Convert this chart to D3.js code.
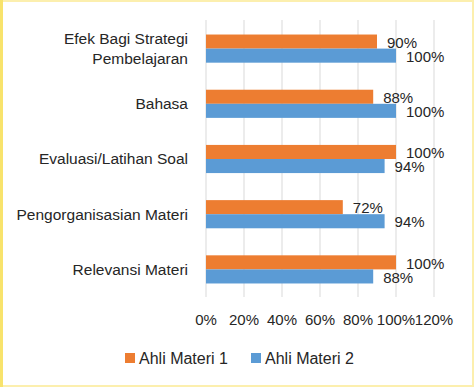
<!DOCTYPE html>
<html>
<head>
<meta charset="utf-8">
<script src="https://d3js.org/d3.v7.min.js"></script>
<style>
body { margin: 0; background: #fff; }
svg { display: block; font-family: "Liberation Sans", Arial, sans-serif; }
</style>
</head>
<body>
<script>
var categories = ["Efek Bagi Strategi\nPembelajaran", "Bahasa", "Evaluasi/Latihan Soal", "Pengorganisasian Materi", "Relevansi Materi"];
var seriesNames = ["Ahli Materi 1", "Ahli Materi 2"];
var ahli1 = [0.90, 0.88, 1.00, 0.72, 1.00];
var ahli2 = [1.00, 1.00, 0.94, 0.94, 0.88];
var xTicks = [0, 0.2, 0.4, 0.6, 0.8, 1.0, 1.2];
var colors = ["#ED7D31", "#5B9BD5"];

var W = 474, H = 387;
var plotL = 206, plotR = 434, plotT = 21, plotB = 297;

var svg = d3.select("body").append("svg").attr("width", W).attr("height", H);

// border
svg.append("rect").attr("x", 1).attr("y", 1).attr("width", W - 2).attr("height", H - 2)
  .attr("fill", "none").attr("stroke", "#fcefae").attr("stroke-width", 2);
svg.append("rect").attr("x", 0).attr("y", 0).attr("width", 3).attr("height", H).attr("fill", "#f8e36c");

var x = d3.scaleLinear().domain([0, 1.2]).range([plotL, plotR]);
var y = d3.scaleBand().domain(d3.range(categories.length)).range([plotT, plotB]).paddingInner(0.49).paddingOuter(0.245);
var sub = d3.scaleBand().domain([0, 1]).range([0, y.bandwidth()]);

// grid
svg.append("g").selectAll("line").data(xTicks).enter().append("line")
  .attr("x1", function(d) { return x(d); }).attr("x2", function(d) { return x(d); })
  .attr("y1", plotT - 1).attr("y2", plotB)
  .attr("stroke", "#d9d9d9").attr("stroke-width", 1);

// x tick labels
svg.append("g").selectAll("text").data(xTicks).enter().append("text")
  .attr("x", function(d) { return x(d); }).attr("y", 325)
  .attr("text-anchor", "middle").attr("font-size", 15).attr("fill", "#262626")
  .text(function(d) { return Math.round(d * 100) + "%"; });

// category labels
var cl = svg.append("g").selectAll("text").data(categories).enter().append("text")
  .attr("text-anchor", "end").attr("font-size", 15.5).attr("fill", "#262626")
  .attr("transform", function(d, i) { return "translate(188," + (y(i) + y.bandwidth() / 2) + ")"; });
cl.each(function(d) {
  var lines = d.split("\n");
  var t = d3.select(this);
  lines.forEach(function(s, k) {
    t.append("tspan").attr("x", 0)
      .attr("y", (k - (lines.length - 1) / 2) * 20)
      .attr("dy", "0.35em").text(s);
  });
});

// bars
[ahli1, ahli2].forEach(function(vals, s) {
  var g = svg.append("g");
  g.selectAll("rect").data(vals).enter().append("rect")
    .attr("x", x(0))
    .attr("y", function(d, i) { return y(i) + sub(s); })
    .attr("width", function(d) { return x(d) - x(0); })
    .attr("height", sub.bandwidth())
    .attr("fill", colors[s]);
  g.selectAll("text").data(vals).enter().append("text")
    .attr("x", function(d) { return x(d) + 10; })
    .attr("y", function(d, i) { return y(i) + sub(s) + sub.bandwidth() / 2 + 1; })
    .attr("dy", "0.35em").attr("font-size", 15).attr("fill", "#262626")
    .text(function(d) { return Math.round(d * 100) + "%"; });
});

// legend
var legX = [125, 251];
seriesNames.forEach(function(n, s) {
  svg.append("rect").attr("x", legX[s]).attr("y", 353).attr("width", 10).attr("height", 10).attr("fill", colors[s]);
  svg.append("text").attr("x", legX[s] + 14).attr("y", 358).attr("dy", "0.35em")
    .attr("font-size", 16).attr("fill", "#262626").text(n);
});
</script>
</body>
</html>
